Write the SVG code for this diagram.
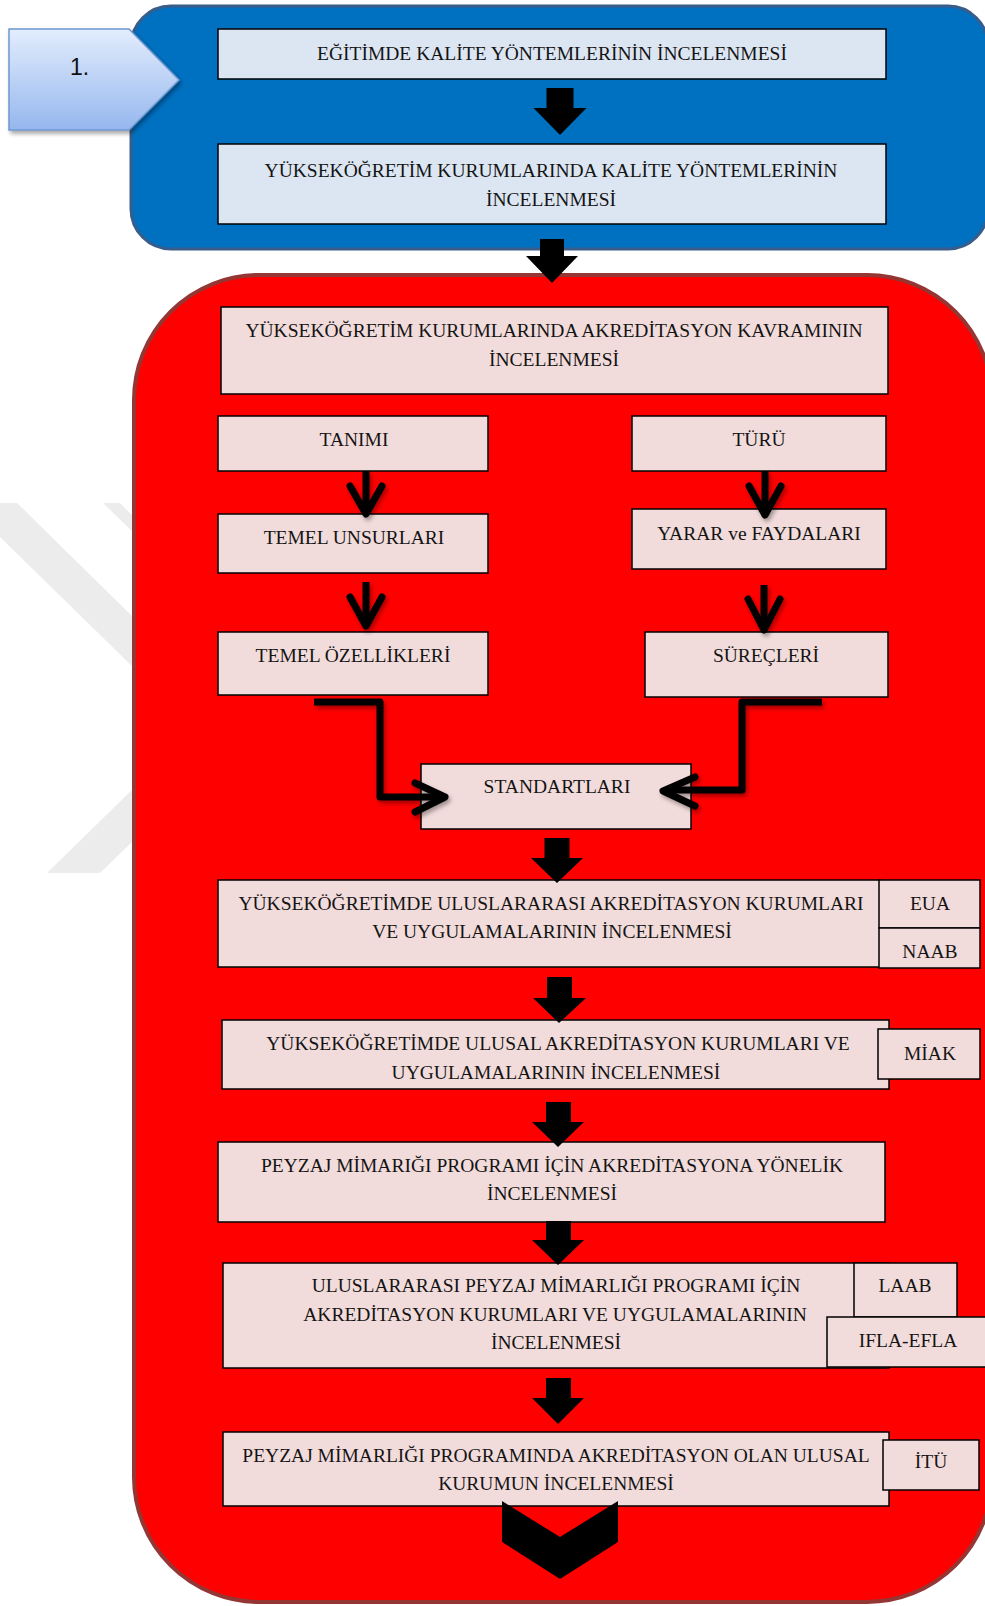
<svg xmlns="http://www.w3.org/2000/svg" width="985" height="1606" viewBox="0 0 985 1606">
<defs>
<linearGradient id="gNum" x1="0" y1="0" x2="0" y2="1">
<stop offset="0" stop-color="#e3edfd"/>
<stop offset="1" stop-color="#95b7ee"/>
</linearGradient>
<filter id="sh" x="-20%" y="-20%" width="150%" height="150%">
<feDropShadow dx="2" dy="3" stdDeviation="2" flood-color="#000" flood-opacity="0.35"/>
</filter>
<style>
.t{font-family:"Liberation Serif","Times New Roman",serif;font-size:19.5px;fill:#141414;text-anchor:middle}
.bb{fill:#dce6f2;stroke:#000;stroke-width:1.5}
.pb{fill:#f2dcdb;stroke:#000;stroke-width:1.5}
.blk{fill:#000}
.ln{fill:none;stroke:#000;stroke-width:7;stroke-linejoin:round}
.hd{fill:none;stroke:#000;stroke-width:7;stroke-linecap:round;stroke-linejoin:round}
.wm{fill:#ececec}
</style>
</defs>
<rect width="985" height="1606" fill="#fff"/>
<g id="watermark">
<polygon class="wm" points="0,503 17,503 134,618 134,668 0,537"/>
<polygon class="wm" points="103,503 120,503 134,517 134,533"/>
<polygon class="wm" points="47,873 100,873 134,840 134,788"/>
</g>
<g id="panel-blue">
<rect x="131" y="6" width="857" height="243" rx="40" ry="40" fill="#0070c0" stroke="#385d8a" stroke-width="3"/>
</g>
<g id="panel-red">
<rect x="134" y="275" width="858" height="1327" rx="125" ry="125" fill="#ff0000" stroke="#943634" stroke-width="4"/>
</g>
<g id="step-1">
<polygon points="9,29 129,29 179,80 129,130 9,130" fill="url(#gNum)" stroke="#6f98d0" stroke-width="1.5" filter="url(#sh)"/>
<text x="70" y="75" style="font-family:'Liberation Sans',Arial,sans-serif;font-size:23px;fill:#111">1.</text>
</g>
<g id="n-egitim">
<rect class="bb" x="218" y="29" width="668" height="50"/>
<text class="t" x="552" y="60">EĞİTİMDE KALİTE YÖNTEMLERİNİN İNCELENMESİ</text>
</g>
<g id="n-yok-kalite">
<rect class="bb" x="218" y="144" width="668" height="80"/>
<text class="t" x="551" y="177">YÜKSEKÖĞRETİM KURUMLARINDA KALİTE YÖNTEMLERİNİN</text>
<text class="t" x="551" y="206">İNCELENMESİ</text>
</g>
<g id="n-akreditasyon">
<rect class="pb" x="221" y="307" width="667" height="87"/>
<text class="t" x="554" y="337">YÜKSEKÖĞRETİM KURUMLARINDA AKREDİTASYON KAVRAMININ</text>
<text class="t" x="554" y="366">İNCELENMESİ</text>
</g>
<g id="n-tanimi">
<rect class="pb" x="218" y="416" width="270" height="55"/>
<text class="t" x="354" y="446">TANIMI</text>
</g>
<g id="n-turu">
<rect class="pb" x="632" y="416" width="254" height="55"/>
<text class="t" x="759" y="446">TÜRÜ</text>
</g>
<g id="n-temel-unsurlari">
<rect class="pb" x="218" y="514" width="270" height="59"/>
<text class="t" x="354" y="544">TEMEL UNSURLARI</text>
</g>
<g id="n-yarar">
<rect class="pb" x="632" y="509" width="254" height="60"/>
<text class="t" x="759" y="540">YARAR ve FAYDALARI</text>
</g>
<g id="n-temel-ozellikleri">
<rect class="pb" x="218" y="632" width="270" height="63"/>
<text class="t" x="353" y="662">TEMEL ÖZELLİKLERİ</text>
</g>
<g id="n-surecleri">
<rect class="pb" x="645" y="632" width="243" height="65"/>
<text class="t" x="766" y="662">SÜREÇLERİ</text>
</g>
<g id="n-standartlari">
<rect class="pb" x="421" y="764" width="270" height="65"/>
<text class="t" x="557" y="793">STANDARTLARI</text>
</g>
<g id="n-uluslararasi">
<rect class="pb" x="218" y="880" width="662" height="87"/>
<text class="t" x="551" y="910">YÜKSEKÖĞRETİMDE ULUSLARARASI AKREDİTASYON KURUMLARI</text>
<text class="t" x="552" y="938">VE UYGULAMALARININ İNCELENMESİ</text>
</g>
<g id="n-eua">
<rect class="pb" x="879" y="880" width="101" height="48"/>
<text class="t" x="930" y="910">EUA</text>
</g>
<g id="n-naab">
<rect class="pb" x="879" y="928" width="101" height="40"/>
<text class="t" x="930" y="958">NAAB</text>
</g>
<g id="n-ulusal">
<rect class="pb" x="222" y="1020" width="667" height="69"/>
<text class="t" x="558" y="1050">YÜKSEKÖĞRETİMDE ULUSAL AKREDİTASYON KURUMLARI VE</text>
<text class="t" x="556" y="1079">UYGULAMALARININ İNCELENMESİ</text>
</g>
<g id="n-miak">
<rect class="pb" x="878" y="1029" width="102" height="50"/>
<text class="t" x="930" y="1060">MİAK</text>
</g>
<g id="n-peyzaj">
<rect class="pb" x="218" y="1142" width="667" height="80"/>
<text class="t" x="552" y="1172">PEYZAJ MİMARIĞI PROGRAMI İÇİN AKREDİTASYONA YÖNELİK</text>
<text class="t" x="552" y="1200">İNCELENMESİ</text>
</g>
<g id="n-uluslararasi-peyzaj">
<rect class="pb" x="223" y="1263" width="666" height="105"/>
<text class="t" x="556" y="1292">ULUSLARARASI PEYZAJ MİMARLIĞI PROGRAMI İÇİN</text>
<text class="t" x="555" y="1321">AKREDİTASYON KURUMLARI VE UYGULAMALARININ</text>
<text class="t" x="556" y="1349">İNCELENMESİ</text>
</g>
<g id="n-laab">
<rect class="pb" x="854" y="1263" width="103" height="54"/>
<text class="t" x="905" y="1292">LAAB</text>
</g>
<g id="n-ifla">
<rect class="pb" x="827" y="1317" width="170" height="50"/>
<text class="t" x="908" y="1347">IFLA-EFLA</text>
</g>
<g id="n-ulusal-kurum">
<rect class="pb" x="223" y="1432" width="666" height="74"/>
<text class="t" x="556" y="1462">PEYZAJ MİMARLIĞI PROGRAMINDA AKREDİTASYON OLAN ULUSAL</text>
<text class="t" x="556" y="1490">KURUMUN İNCELENMESİ</text>
</g>
<g id="n-itu">
<rect class="pb" x="883" y="1440" width="96" height="50"/>
<text class="t" x="931" y="1468">İTÜ</text>
</g>
<g id="connectors">
<polygon class="blk" points="546.5,88 573.5,88 573.5,108 586.5,108 560,135 533.5,108 546.5,108"/>
<polygon class="blk" points="540,239 564,239 564,256 578,256 552,283 526,256 540,256"/>
<g filter="url(#sh)">
<path class="ln" d="M366,471 V512"/>
<path class="hd" d="M350,486 L366,514 L382,486"/>
<path class="ln" d="M765,471 V512"/>
<path class="hd" d="M749,486 L765,515 L781,486"/>
<path class="ln" d="M366,582 V622"/>
<path class="hd" d="M350,597 L366,626 L382,597"/>
<path class="ln" d="M764,585 V626"/>
<path class="hd" d="M748,599 L764,630 L780,599"/>
<path class="ln" d="M314,702 H380 V797 H440"/>
<path class="hd" d="M415,783 L445,797 L415,812"/>
<path class="ln" d="M822,702 H742 V790 H668"/>
<path class="hd" d="M695,777 L663,791 L695,806"/>
</g>
<polygon class="blk" points="544.5,838 569.5,838 569.5,858 583,858 557,883 531,858 544.5,858"/>
<polygon class="blk" points="547,977 572,977 572,998 586,998 559,1023 533,998 547,998"/>
<polygon class="blk" points="546,1102 571,1102 571,1122 584,1122 558,1147 532,1122 546,1122"/>
<polygon class="blk" points="546,1221 571,1221 571,1240 584,1240 558,1265 532,1240 546,1240"/>
<polygon class="blk" points="546,1378 571,1378 571,1398 584,1398 558,1424 532,1398 546,1398"/>
<polygon class="blk" points="502,1501 560,1537 618,1501 618,1542 560,1579 502,1542"/>
</g>
</svg>
